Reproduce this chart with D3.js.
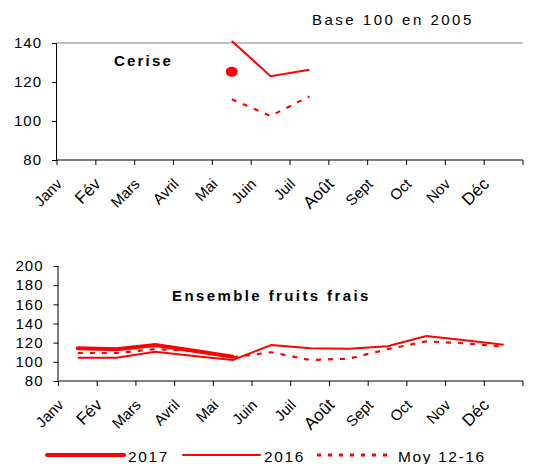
<!DOCTYPE html>
<html>
<head>
<meta charset="utf-8">
<script src="https://cdn.jsdelivr.net/npm/d3@7"></script>
<style>
  body { margin: 0; background: #fff; }
  svg { font-family: "Liberation Sans", Arial, sans-serif; }
</style>
</head>
<body>
<script>
const months = ["Janv", "Fév", "Mars", "Avril", "Mai", "Juin", "Juil", "Août", "Sept", "Oct", "Nov", "Déc"];

// Cerise (top chart)
const cerise2017 = [null, null, null, null, 125.2, null, null, null, null, null, null, null];
const cerise2016 = [null, null, null, null, 141, 123, 126.3, null, null, null, null, null];
const ceriseMoy  = [null, null, null, null, 111.2, 102.6, 112.6, null, null, null, null, null];
const ceriseTicks = [80, 100, 120, 140];

// Ensemble fruits frais (bottom chart)
const fruits2017 = [114.1, 113.1, 117.6, 111.5, 105.4, null, null, null, null, null, null, null];
const fruits2016 = [104.3, 104.3, 110.6, 106, 101.9, 117.6, 114.1, 113.7, 116.2, 127, 122.5, 117.9];
const fruitsMoy  = [109.2, 109.2, 113.4, 111.5, 104.7, 110, 101.9, 103.3, 113.1, 121.4, 119.3, 115.8];
const fruitsTicks = [80, 100, 120, 140, 160, 180, 200];

const W = 541, H = 464;
const RED = "#ff0000";

const svg = d3.select("body").append("svg")
  .attr("width", W).attr("height", H);

function drawPanel(opt) {
  const x = d3.scaleBand().domain(months).range([opt.x0, opt.x1]);
  const y = d3.scaleLinear().domain([opt.ticks[0], opt.ticks[opt.ticks.length - 1]]).range([opt.y1, opt.y0]);
  const g = svg.append("g");

  if (opt.topBorder) {
    g.append("line")
      .attr("x1", opt.x0).attr("x2", opt.x1)
      .attr("y1", opt.y0).attr("y2", opt.y0)
      .attr("stroke", "#c0c0c0").attr("stroke-width", 2);
  }

  // y axis
  const yAxis = d3.axisLeft(y).tickValues(opt.ticks).tickSize(5).tickPadding(10);
  const ya = g.append("g").attr("transform", `translate(${opt.x0},0)`).call(yAxis);
  ya.select(".domain").attr("stroke", "#000").attr("d", `M-0.5,${opt.y0}V${opt.y1}`);
  ya.selectAll("text")
    .attr("font-size", 15).attr("font-family", "Liberation Sans, Arial, sans-serif")
    .attr("letter-spacing", 1).attr("fill", "#000");

  // x axis: ticks at band edges
  const xa = g.append("g").attr("transform", `translate(0,${opt.y1})`);
  xa.append("line").attr("x1", opt.x0).attr("x2", opt.x1).attr("stroke", "#000").attr("stroke-width", 1.2);
  const edges = months.map(m => x(m)).concat([opt.x1]);
  xa.selectAll(".tk").data(edges).enter().append("line")
    .attr("x1", d => d).attr("x2", d => d).attr("y1", 0).attr("y2", 5)
    .attr("stroke", "#000");
  xa.selectAll(".lbl").data(months).enter().append("text")
    .attr("transform", d => `translate(${x(d) + 6},${opt.labelDy}) rotate(-45)`)
    .attr("text-anchor", "end")
    .attr("font-size", d => /[éû]/.test(d) ? 17 : 15)
    .attr("fill", "#000")
    .text(d => d);

  const cx = i => x(months[i]) + x.bandwidth() / 2;
  const line = d3.line()
    .defined(d => d != null)
    .x((d, i) => cx(i))
    .y(d => y(d));

  g.append("path").datum(opt.moy).attr("d", line)
    .attr("fill", "none").attr("stroke", RED).attr("stroke-width", 2.2)
    .attr("stroke-dasharray", "5,7");
  g.append("path").datum(opt.s2016).attr("d", line)
    .attr("fill", "none").attr("stroke", RED).attr("stroke-width", 2);
  g.append("path").datum(opt.s2017).attr("d", line)
    .attr("fill", "none").attr("stroke", RED).attr("stroke-width", 4).attr("stroke-linecap", "round");

  if (opt.dot) {
    opt.s2017.forEach((v, i) => {
      if (v != null) {
        g.append("ellipse").attr("cx", cx(i)).attr("cy", y(v))
          .attr("rx", 6).attr("ry", 5).attr("fill", RED);
      }
    });
  }

  g.append("text")
    .attr("x", opt.titleX).attr("y", opt.titleY)
    .attr("font-size", 15).attr("font-weight", "bold")
    .attr("letter-spacing", opt.titleSpacing)
    .attr("fill", "#000")
    .text(opt.title);
}

svg.append("text")
  .attr("x", 312).attr("y", 25)
  .attr("font-size", 15).attr("letter-spacing", 2.5).attr("fill", "#000")
  .text("Base 100 en 2005");

drawPanel({
  x0: 57, x1: 523, y0: 43, y1: 160,
  ticks: ceriseTicks, labelDy: 25,
  s2017: cerise2017, s2016: cerise2016, moy: ceriseMoy, dot: true,
  topBorder: true,
  title: "Cerise", titleX: 114, titleY: 66, titleSpacing: 2.2
});

drawPanel({
  x0: 58.5, x1: 523, y0: 266, y1: 381,
  ticks: fruitsTicks, labelDy: 25,
  s2017: fruits2017, s2016: fruits2016, moy: fruitsMoy, dot: false,
  topBorder: false,
  title: "Ensemble fruits frais", titleX: 172, titleY: 301, titleSpacing: 2.4
});

// legend
const legend = [
  { label: "2017", width: 4, dash: null, x: 47 },
  { label: "2016", width: 2, dash: null, x: 183 },
  { label: "Moy 12-16", width: 3, dash: "4,7", x: 317 }
];
const lg = svg.append("g").attr("transform", "translate(0,455)");
lg.selectAll("line").data(legend).enter().append("line")
  .attr("x1", d => d.x).attr("x2", d => d.x + 77)
  .attr("stroke", RED).attr("stroke-width", d => d.width)
  .attr("stroke-linecap", d => d.dash ? "butt" : "round")
  .attr("stroke-dasharray", d => d.dash);
lg.selectAll("text").data(legend).enter().append("text")
  .attr("x", d => d.x + 81).attr("y", 7)
  .attr("font-size", 15.5).attr("letter-spacing", 1.6).attr("fill", "#000")
  .text(d => d.label);
</script>
</body>
</html>
